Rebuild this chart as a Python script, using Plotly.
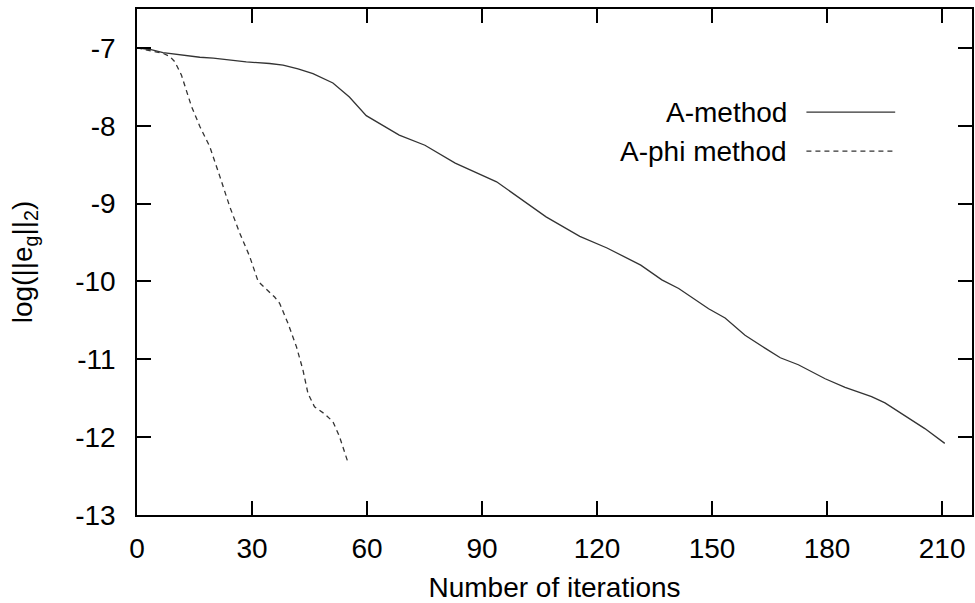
import plotly.graph_objects as go

# A-method (solid line)
a_iter = [0, 3.4, 6.8, 11.2, 16.4, 19.9, 28.5, 34.6, 38.1, 42.0, 45.9, 51.1, 55.4, 59.8,
          63.6, 68.4, 75.1, 83.0, 93.8, 106.7, 115.5, 122.6, 131.4, 136.9, 141.3, 149.1,
          153.4, 158.6, 163.9, 167.8, 172.5, 179.5, 184.7, 191.6, 195.1, 200.3, 205.5, 210.7]
a_err = [-7.0, -7.02, -7.06, -7.09, -7.12, -7.13, -7.18, -7.2, -7.22, -7.27, -7.33, -7.45,
         -7.63, -7.87, -7.98, -8.12, -8.25, -8.48, -8.72, -9.17, -9.42, -9.57, -9.79, -9.98,
         -10.09, -10.35, -10.47, -10.69, -10.86, -10.98, -11.07, -11.25, -11.36, -11.48,
         -11.56, -11.72, -11.89, -12.08]

# A-phi method (dashed line)
phi_iter = [0, 6.8, 8.6, 9.9, 11.6, 14.2, 16.4, 19.0, 21.6, 24.2, 26.8, 29.4, 31.6, 33.8,
            35.9, 37.2, 39.4, 41.6, 43.3, 44.6, 46.3, 48.9, 51.1, 52.8, 55.0]
phi_err = [-7.0, -7.07, -7.11, -7.18, -7.35, -7.75, -8.01, -8.27, -8.65, -9.04, -9.38,
           -9.68, -10.0, -10.1, -10.2, -10.28, -10.54, -10.84, -11.14, -11.44, -11.61,
           -11.70, -11.80, -11.99, -12.32]

series_names = ["A-method", "A-phi method"]
x_ticks = [0, 30, 60, 90, 120, 150, 180, 210]
y_ticks = [-13, -12, -11, -10, -9, -8, -7]

FONT = "Liberation Sans, Arial, Helvetica, sans-serif"
LINE_COLOR = "#333333"
FS = 28

fig = go.Figure()
fig.add_trace(go.Scatter(x=a_iter, y=a_err, mode="lines", name=series_names[0],
                         line=dict(color=LINE_COLOR, width=1.3), showlegend=False))
fig.add_trace(go.Scatter(x=phi_iter, y=phi_err, mode="lines", name=series_names[1],
                         line=dict(color=LINE_COLOR, width=1.3, dash="5px,4px"),
                         showlegend=False))

axis_common = dict(showline=True, linecolor="black", linewidth=1.5, mirror="ticks",
                   ticks="inside", ticklen=14, tickwidth=1.5, tickcolor="black",
                   showgrid=False, zeroline=False,
                   tickfont=dict(family=FONT, size=FS, color="black"))

fig.update_xaxes(range=[0, 217.8], tickvals=x_ticks, ticklabelstandoff=8,
                 title=dict(text="Number of iterations", font=dict(family=FONT, size=FS, color="black"),
                            standoff=14),
                 **axis_common)
fig.update_yaxes(range=[-13, -6.5], tickvals=y_ticks, ticktext=[str(v) for v in y_ticks],
                 ticklabelstandoff=14,
                 title=dict(text="log(||e<sub>g</sub>||<sub>2</sub>)",
                            font=dict(family=FONT, size=FS, color="black"), standoff=34),
                 **axis_common)

# gnuplot-style key: text on left, line sample on right
key_y = [0.796, 0.719]
key_dash = ["solid", "5px,4px"]
for name, ky, dsh in zip(series_names, key_y, key_dash):
    fig.add_annotation(xref="paper", yref="paper", x=0.781, y=ky, text=name,
                       showarrow=False, xanchor="right", yanchor="middle",
                       font=dict(family=FONT, size=FS, color="black"))
    fig.add_shape(type="line", xref="paper", yref="paper", x0=0.8017, x1=0.908,
                  y0=ky, y1=ky, line=dict(color=LINE_COLOR, width=1.3, dash=dsh))

fig.update_layout(width=975, height=603, margin=dict(l=137, r=1, t=9, b=88),
                  paper_bgcolor="white", plot_bgcolor="white",
                  font=dict(family=FONT, color="black"))

fig.write_html("out.html")
